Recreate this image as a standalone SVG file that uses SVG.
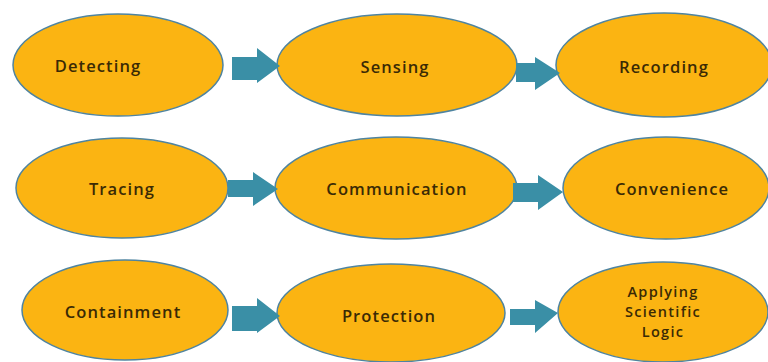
<svg xmlns="http://www.w3.org/2000/svg" width="768" height="362" viewBox="0 0 768 362">
<style>
.n ellipse{fill:#FBB412;stroke:#4F84A0;stroke-width:1.5}
.n text{font-family:"Open Sans","Liberation Sans",sans-serif;font-weight:600;font-size:16.5px;fill:#3A2A05;text-anchor:middle;letter-spacing:1.1px}
.n text.s{font-size:14.5px;letter-spacing:1.3px}
.a{fill:#3A8FA6}
</style>
<rect width="768" height="362" fill="#fff"/>
<g id="n-detecting" class="n"><ellipse cx="118" cy="65" rx="105" ry="51"/><text x="98" y="72">Detecting</text></g>
<g id="n-sensing" class="n"><ellipse cx="397" cy="65" rx="120" ry="51"/><text x="395" y="73">Sensing</text></g>
<g id="n-recording" class="n"><ellipse cx="664" cy="65" rx="108" ry="52"/><text x="664" y="73">Recording</text></g>
<g id="n-tracing" class="n"><ellipse cx="122" cy="188" rx="106" ry="50"/><text x="122" y="195">Tracing</text></g>
<g id="n-communication" class="n"><ellipse cx="396" cy="188" rx="121" ry="51"/><text x="397" y="195">Communication</text></g>
<g id="n-convenience" class="n"><ellipse cx="666" cy="188" rx="103" ry="51"/><text x="672" y="195">Convenience</text></g>
<g id="n-containment" class="n"><ellipse cx="125" cy="310" rx="103" ry="50"/><text x="123" y="318">Containment</text></g>
<g id="n-protection" class="n"><ellipse cx="391" cy="313" rx="114" ry="49"/><text x="389" y="322">Protection</text></g>
<g id="n-applying" class="n"><ellipse cx="663" cy="312" rx="105" ry="50"/><text class="s" x="663" y="297">Applying</text><text class="s" x="663" y="317">Scientific</text><text class="s" x="663" y="337">Logic</text></g>
<g id="connectors">
<polygon class="a" points="232,57 257,57 257,48 280,66 257,83 257,80 232,80"/>
<polygon class="a" points="516,63 535,63 535,57 560,73 535,90 535,82 516,82"/>
<polygon class="a" points="228,180 253,180 253,172 278,189 253,206 253,197 228,197"/>
<polygon class="a" points="513,183 538,183 538,175 563,192 538,210 538,202 513,202"/>
<polygon class="a" points="232,306 257,306 257,298 280,316 257,333 257,331 232,331"/>
<polygon class="a" points="510,309 535,309 535,300 558,313 535,333 535,325 510,325"/>
</g>
</svg>
